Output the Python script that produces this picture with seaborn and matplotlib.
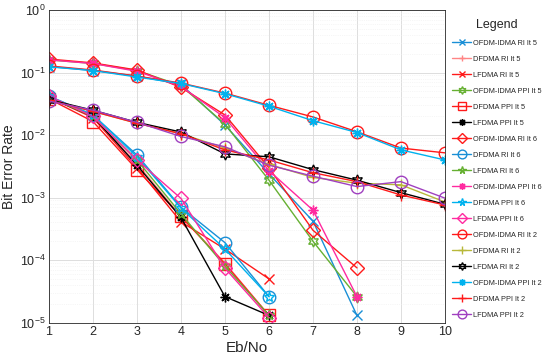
import pandas as pd
import matplotlib.pyplot as plt
import seaborn as sns

eb_no = [1, 2, 3, 4, 5, 6, 7, 8, 9, 10]

# iteration 5
ofdm_ri_it5 = [0.125, 0.108, 0.088, 0.065, 0.0145, 0.0024, 0.00042, 1.3e-5]
dfdma_ri_it5 = [0.040, 0.020, 0.0035, 0.0005, 9e-5, 1.3e-5]
lfdma_ri_it5 = [0.040, 0.019, 0.0030, 0.00041, 0.00015, 5e-5]
ofdm_ppi_it5 = [0.160, 0.140, 0.108, 0.062, 0.015, 0.0019, 0.00020, 2.6e-5]
dfdma_ppi_it5 = [0.038, 0.0165, 0.0028, 0.0005, 8.7e-5, 1.3e-5]
lfdma_ppi_it5 = [0.040, 0.020, 0.0033, 0.00048, 2.6e-5, 1.3e-5]
# iteration 6
ofdm_ri_it6 = [0.165, 0.143, 0.110, 0.058, 0.021, 0.0030, 0.00030, 7.5e-5]
dfdma_ri_it6 = [0.042, 0.021, 0.0048, 0.0007, 0.00019, 2.6e-5]
lfdma_ri_it6 = [0.040, 0.020, 0.0040, 0.00055, 8e-5, 1.3e-5]
ofdm_ppi_it6 = [0.160, 0.140, 0.105, 0.060, 0.019, 0.0027, 0.00063, 2.6e-5]
dfdma_ppi_it6 = [0.042, 0.021, 0.0045, 0.00068, 0.00015, 2.6e-5]
lfdma_ppi_it6 = [0.042, 0.020, 0.0040, 0.00097, 7.4e-5, 1.2e-5]
# iteration 2
ofdm_ri_it2 = [0.128, 0.110, 0.088, 0.068, 0.047, 0.030, 0.0195, 0.0113, 0.0062, 0.0052]
dfdma_ri_it2 = [0.037, 0.024, 0.0155, 0.0105, 0.0062, 0.0034, 0.0021, 0.0017, 0.0016, 0.00085]
lfdma_ri_it2 = [0.037, 0.025, 0.016, 0.0112, 0.0050, 0.0045, 0.0028, 0.0019, 0.0012, 0.00078]
ofdm_ppi_it2 = [0.124, 0.108, 0.085, 0.067, 0.046, 0.029, 0.017, 0.011, 0.0058, 0.0040]
dfdma_ppi_it2 = [0.036, 0.024, 0.0155, 0.0105, 0.0058, 0.0040, 0.0025, 0.0018, 0.0011, 0.00076]
lfdma_ppi_it2 = [0.035, 0.025, 0.016, 0.0095, 0.0065, 0.0033, 0.0022, 0.0015, 0.0018, 0.00098]

blue = "#1A8FD6"
cyan = "#00B2EE"
red = "#FF1A1A"
green = "#66B032"
magenta = "#FF2AA0"
olive = "#B8B83A"
purple = "#A040C0"

asterisk = (8, 2, 0)
hexagram = (6, 1, 0)

# name, values, color, marker, size, hollow
series = [
    ("OFDM-IDMA RI It 5", ofdm_ri_it5, blue, "x", 7, False),
    ("DFDMA RI It 5", dfdma_ri_it5, "#FF8585", "+", 7, False),
    ("LFDMA RI It 5", lfdma_ri_it5, red, "x", 7, False),
    ("OFDM-IDMA PPI It 5", ofdm_ppi_it5, green, hexagram, 8, True),
    ("DFDMA PPI It 5", dfdma_ppi_it5, red, "s", 8, True),
    ("LFDMA PPI It 5", lfdma_ppi_it5, "black", asterisk, 7, False),
    ("OFDM-IDMA RI It 6", ofdm_ri_it6, red, "D", 7, True),
    ("DFDMA RI It 6", dfdma_ri_it6, blue, "o", 9, True),
    ("LFDMA RI It 6", lfdma_ri_it6, green, "*", 8, True),
    ("OFDM-IDMA PPI It 6", ofdm_ppi_it6, magenta, asterisk, 7, False),
    ("DFDMA PPI It 6", dfdma_ppi_it6, cyan, "*", 8, True),
    ("LFDMA PPI It 6", lfdma_ppi_it6, magenta, "D", 7, True),
    ("OFDM-IDMA RI It 2", ofdm_ri_it2, red, "o", 9, True),
    ("DFDMA RI It 2", dfdma_ri_it2, olive, "+", 8, False),
    ("LFDMA RI It 2", lfdma_ri_it2, "black", hexagram, 8, True),
    ("OFDM-IDMA PPI It 2", ofdm_ppi_it2, cyan, asterisk, 7, False),
    ("DFDMA PPI It 2", dfdma_ppi_it2, red, "+", 8, False),
    ("LFDMA PPI It 2", lfdma_ppi_it2, purple, "o", 9, True),
]

sns.set_style("white")
plt.rcParams["font.family"] = ["Liberation Sans", "DejaVu Sans"]

fig = plt.figure(figsize=(5.5, 3.62), dpi=100)
ax = fig.add_axes([0.089, 0.109, 0.72, 0.863])

for name, vals, col, mk, ms, hollow in series:
    df = pd.DataFrame({"Eb/No": eb_no[:len(vals)], "BER": vals})
    sns.lineplot(data=df, x="Eb/No", y="BER", ax=ax, color=col, marker=mk,
                 markersize=ms, linewidth=1.0, label=name,
                 markerfacecolor="none" if hollow else col,
                 markeredgecolor=col, markeredgewidth=1.0)

ax.set_yscale("log")
ax.set_ylim(1e-5, 1)
ax.set_xlim(1, 10)
ax.set_xticks(eb_no)
ax.grid(True, which="major", color="#DDDDDD", linewidth=0.7)
ax.grid(True, which="minor", axis="y", color="#EEEEEE", linewidth=0.5, linestyle=":")
ax.tick_params(labelsize=9, direction="in", which="both", length=3, pad=2.5)
ax.tick_params(which="minor", length=1.5)
for s in ax.spines.values():
    s.set_color("#262626")
    s.set_linewidth(0.6)
ax.set_xlabel("Eb/No", fontsize=11, labelpad=2)
ax.set_ylabel("Bit Error Rate", fontsize=10)
ax.yaxis.set_label_coords(-0.082, 0.5)

leg = ax.legend(loc="upper left", bbox_to_anchor=(1.0, 0.995), frameon=False,
                fontsize=5.3, title="Legend", title_fontsize=9,
                labelspacing=1.2, handlelength=2.6, handletextpad=0.25,
                markerscale=0.7, borderaxespad=0.6)

plt.savefig("out.png", dpi=100)
